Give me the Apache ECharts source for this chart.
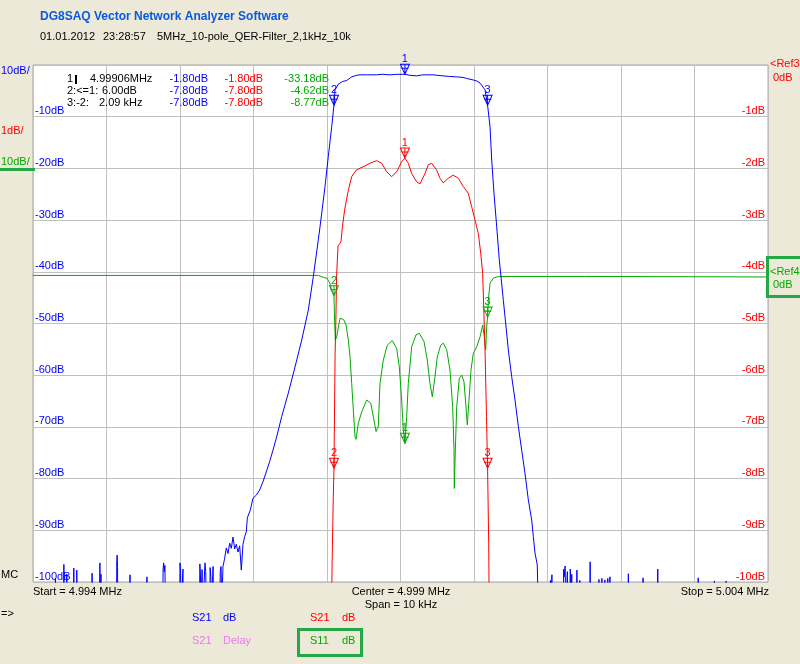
<!DOCTYPE html>
<html><head><meta charset="utf-8">
<script src="https://cdn.jsdelivr.net/npm/echarts@6/dist/echarts.min.js"></script>
<style>html,body{margin:0;padding:0;background:#ECE9D8;}#c{width:800px;height:664px;}</style>
</head><body><div id="c"></div>
<script>
// ---- axis ranges (kHz / dB) ----
const freqStartKHz = 4994, freqStopKHz = 5004, freqStepKHz = 1;
const blueRange = [-100, 0, 10];
const redRange = [-10, 0, 1];
const greenRange = [-60, 40, 10];

// ---- S21 dB (blue, 10 dB/div) ----
const blueFreq = [4994.000,4994.300,4994.305,4994.310,4994.415,4994.420,4994.425,4994.455,4994.460,4994.465,
4994.550,4994.555,4994.560,4994.592,4994.596,4994.602,4994.800,4994.804,4994.808,4994.905,4994.910,4994.915,
4994.925,4994.930,4995.135,4995.140,4995.145,4995.150,4995.155,4995.315,4995.320,4995.325,4995.545,4995.550,
4995.555,4995.765,4995.770,4995.778,4995.785,4995.795,4995.802,4995.995,4996.000,4996.008,4996.015,4996.035,
4996.040,4996.046,4996.265,4996.270,4996.278,4996.285,4996.295,4996.300,4996.310,4996.335,4996.340,4996.350,
4996.360,4996.405,4996.410,4996.420,4996.430,4996.445,4996.450,4996.456,4996.540,4996.548,4996.558,4996.570,
4996.585,4996.608,4996.630,4996.653,4996.676,4996.698,4996.721,4996.744,4996.766,4996.789,4996.812,4996.834,
4996.857,4996.880,4996.902,4996.916,4996.935,4996.956,4996.993,4997.038,4997.084,4997.129,4997.174,4997.220,
4997.265,4997.310,4997.384,4997.473,4997.565,4997.656,4997.746,4997.814,4997.882,4997.905,4997.973,4998.018,
4998.064,4998.095,4998.109,4998.154,4998.210,4998.268,4998.336,4998.400,4998.449,4998.550,4998.676,4998.750,
4998.857,4998.950,4999.060,4999.130,4999.220,4999.300,4999.356,4999.442,4999.500,4999.578,4999.650,4999.765,
4999.850,4999.901,4999.990,5000.040,5000.082,5000.150,5000.185,5000.218,5000.241,5000.272,5000.309,5000.344,
5000.367,5000.399,5000.422,5000.467,5000.513,5000.558,5000.603,5000.649,5000.694,5000.739,5000.785,5000.807,
5000.830,5000.861,5000.875,
5001.035,5001.040,5001.045,5001.055,5001.060,5001.065,5001.215,5001.220,5001.228,5001.240,5001.250,
5001.265,5001.270,5001.276,5001.305,5001.310,5001.316,5001.325,5001.330,5001.336,5001.395,5001.400,5001.405,
5001.435,5001.440,5001.445,5001.575,5001.580,5001.585,5001.695,5001.700,5001.705,5001.735,5001.740,5001.745,
5001.775,5001.780,5001.785,5001.815,5001.820,5001.825,5001.845,5001.850,5001.855,5002.095,5002.100,5002.105,
5002.295,5002.300,5002.305,5002.495,5002.500,5002.505,5003.045,5003.050,5003.055,5003.265,5003.270,5003.275,
5003.425,5003.430,5003.435,5004.000];
const blueDb = [-106,-106,-99.3,-106,-106,-96.6,-106,-106,-98.5,-106,
-106,-97.3,-106,-106,-97.7,-106,-106,-98.3,-106,-106,-96.3,-106,
-98.5,-106,-106,-96.0,-94.8,-97.2,-106,-106,-98.6,-106,-106,-99.0,
-106,-106,-97.5,-96.3,-98.0,-96.8,-106,-106,-96.3,-98.2,-106,-106,
-97.5,-106,-106,-96.5,-98.5,-106,-106,-97.6,-106,-106,-96.3,-98.0,
-106,-106,-97.2,-99.0,-106,-106,-97.0,-106,-106,-98.0,-97.0,-104,
-97.0,-95.4,-93.4,-94.5,-92.5,-93.5,-91.3,-93.6,-92.7,-94.2,-93.0,-97.7,
-92.7,-91.2,-90.3,-87.6,-87.3,-86.1,-83.8,-83.2,-82.2,-80.6,-78.7,-76.7,
-74.5,-72.2,-68.0,-63.5,-58.4,-53.2,-47.4,-40.9,-33.8,-31.3,-23.5,-17.7,
-11.9,-7.8,-4.8,-3.7,-3.2,-3.0,-2.3,-2.0,-1.9,-1.9,-1.9,-1.8,
-1.9,-1.8,-1.8,-2.0,-2.1,-1.9,-1.9,-1.9,-2.0,-2.1,-2.2,-2.3,
-2.4,-2.6,-2.9,-3.1,-3.5,-4.8,-7.8,-11.9,-18.4,-24.8,-31.3,-37.7,
-40.9,-45.5,-48.7,-55.1,-60.3,-64.8,-69.9,-74.5,-79.0,-84.1,-88.0,-91.2,
-94.4,-96.7,-106,
-106,-99.7,-106,-106,-98.6,-106,-106,-97.5,-99.0,-96.9,-106,
-106,-98.0,-106,-106,-97.5,-106,-106,-98.5,-106,-106,-97.7,-106,
-106,-99.7,-106,-106,-96.1,-106,-106,-99.5,-106,-106,-99.3,-106,
-106,-99.6,-106,-106,-99.3,-106,-106,-99.0,-106,-106,-98.4,-106,
-106,-99.2,-106,-106,-97.5,-106,-106,-99.2,-106,-106,-99.8,-106,
-106,-99.8,-106,-106];

// ---- S21 dB (red, 1 dB/div) ----
const redFreq = [4994.000,4998.050,4998.070,4998.085,4998.095,4998.110,4998.120,4998.130,4998.150,4998.190,
4998.210,4998.240,4998.290,4998.336,4998.400,4998.490,4998.585,4998.676,4998.744,4998.810,4998.880,4998.950,
4999.016,4999.060,4999.106,4999.152,4999.220,4999.265,4999.333,4999.378,4999.424,4999.492,4999.537,4999.582,
4999.650,4999.718,4999.786,4999.854,4999.922,4999.968,5000.014,5000.059,5000.091,5000.118,5000.150,5000.170,
5000.185,5000.200,5000.215,5004.000];
const redDb = [-12,-12,-9.6,-8.4,-7.8,-5.6,-5.0,-4.1,-3.5,-3.42,
-3.13,-2.80,-2.42,-2.16,-2.03,-1.97,-1.90,-1.85,-1.90,-2.06,-2.16,-2.06,
-1.87,-1.80,-1.90,-2.10,-2.26,-2.30,-2.10,-1.93,-1.90,-2.03,-2.19,-2.28,
-2.19,-2.13,-2.19,-2.35,-2.48,-2.74,-3.00,-3.26,-3.64,-4.03,-5.50,-6.80,
-7.80,-9.25,-12,-12];

// ---- S11 dB (green, 10 dB/div, ref 0 dB) ----
const greenFreq = [4994.000,4997.882,4997.950,4998.000,4998.040,4998.060,4998.095,4998.100,4998.113,4998.132,
4998.154,4998.177,4998.200,4998.225,4998.259,4998.290,4998.313,4998.336,4998.358,4998.381,4998.395,4998.426,
4998.472,4998.540,4998.595,4998.630,4998.667,4998.698,4998.721,4998.766,4998.820,4998.888,4998.948,4998.984,
4999.016,4999.038,4999.060,4999.084,4999.106,4999.152,4999.211,4999.256,4999.320,4999.365,4999.401,4999.433,
4999.469,4999.501,4999.547,4999.582,4999.629,4999.673,4999.710,4999.728,4999.732,4999.746,4999.765,4999.800,
4999.833,4999.864,4999.887,4999.909,4999.932,4999.959,4999.990,5000.037,5000.082,5000.118,5000.140,5000.159,
5000.173,5000.185,5000.195,5000.218,5000.263,5000.331,5001.500,5001.520,5004.000];
const greenDb = [-0.7,-0.7,-1.07,-1.26,-2.2,-3.5,-4.62,-7.8,-13.2,-12.6,
-10.7,-9.0,-8.7,-9.2,-10.3,-13.2,-16.4,-21.6,-26.7,-31.9,-32.4,-29.3,
-27.1,-24.8,-25.4,-28.0,-30.9,-29.9,-21.6,-17.1,-14.2,-13.3,-14.8,-18.4,
-24.8,-30.6,-33.18,-28.0,-21.6,-14.5,-12.2,-11.9,-13.5,-17.1,-21.6,-24.2,
-20.3,-16.4,-14.2,-13.8,-15.1,-19.0,-26.1,-34.5,-41.9,-34.5,-26.1,-20.6,
-20.0,-21.3,-25.4,-29.6,-24.8,-19.0,-15.8,-14.5,-12.6,-10.3,-12.6,-15.1,
-10.5,-8.77,-5.5,-2.2,-1.26,-0.9,-0.9,-1.0,-1.0];

// ---- markers ----
const markerNames = ['1', '2', '3'];
const markerFreq = [4999.06, 4998.095, 5000.185];
const markerBlue = [-1.80, -7.80, -7.80];
const markerRed = [-1.80, -7.80, -7.80];
const markerGreen = [-33.18, -4.62, -8.77];

const FONT = '"Liberation Sans", Arial, sans-serif';
const BLUE = '#0000FF', RED = '#FF0000', GREEN = '#00AA00', BOXGREEN = '#22A845', VIOLET = '#EE77EE';
const GRIDC = '#C0C0C0';
const zip = (xs, ys) => xs.map((x, i) => [x, ys[i]]);
const MARK = 'path://M0,0L10,0L5,10Z M5,0L5,10 M1,4L9,4';

function markers(vals, color) {
  return {
    symbol: MARK, symbolSize: [9, 10], symbolOffset: [0, '-50%'], silent: true,
    itemStyle: { color: 'none', borderColor: color, borderWidth: 1 },
    label: { show: true, position: 'top', distance: -3, color: color, fontFamily: FONT, fontSize: 11,
      formatter: p => p.name },
    data: markerFreq.map((f, i) => ({ name: markerNames[i], coord: [f, vals[i]] }))
  };
}

function txt(x, y, s, color, opts) {
  opts = opts || {};
  return { type: 'text', x: x, y: y, silent: true, z: 100,
    style: { text: s, fill: color, font: (opts.bold ? 'bold ' : '') + (opts.size || 11) + 'px ' + FONT,
      textAlign: opts.align || 'left', textVerticalAlign: 'middle' } };
}
function box(x, y, w, h, color, lw) {
  return { type: 'rect', silent: true, z: 100, shape: { x: x, y: y, width: w, height: h },
    style: { fill: 'none', stroke: color, lineWidth: lw } };
}

const fmtDb = v => v.toFixed(2) + 'dB';
const rowY = [79, 91, 103];

const graphics = [
  txt(40, 17, 'DG8SAQ Vector Network Analyzer Software', '#0A5ADC', { bold: true, size: 12 }),
  txt(40, 37, '01.01.2012', '#000'),
  txt(103, 37, '23:28:57', '#000'),
  txt(157, 37, '5MHz_10-pole_QER-Filter_2,1kHz_10k', '#000'),
  txt(1, 71, '10dB/', BLUE),
  txt(1, 131, '1dB/', RED),
  txt(1, 162, '10dB/', GREEN),
  { type: 'rect', silent: true, z: 100, shape: { x: 0, y: 168, width: 35, height: 3 }, style: { fill: BOXGREEN } },
  // marker table
  txt(67, rowY[0], markerNames[0], '#000'),
  { type: 'rect', silent: true, z: 100, shape: { x: 75, y: 75, width: 2, height: 9 }, style: { fill: '#000' } },
  txt(90, rowY[0], (markerFreq[0] / 1000).toFixed(5) + 'MHz', '#000'),
  txt(67, rowY[1], '2:<=1:', '#000'),
  txt(102, rowY[1], (markerBlue[0] - markerBlue[1]).toFixed(2) + 'dB', '#000'),
  txt(67, rowY[2], '3:-2:', '#000'),
  txt(99, rowY[2], (markerFreq[2] - markerFreq[1]).toFixed(2) + ' kHz', '#000'),
  // right ref labels
  txt(770, 64, '<Ref3', RED),
  txt(773, 78, '0dB', RED),
  txt(770, 272, '<Ref4', GREEN),
  txt(773, 285, '0dB', GREEN),
  box(767.5, 257.5, 34, 39, BOXGREEN, 3),
  // bottom
  txt(1, 575, 'MC', '#000'),
  txt(33, 592, 'Start = ' + (freqStartKHz / 1000).toFixed(3) + ' MHz', '#000'),
  txt(401, 592, 'Center = ' + ((freqStartKHz + freqStopKHz) / 2000).toFixed(3) + ' MHz', '#000', { align: 'center' }),
  txt(401, 605, 'Span = ' + (freqStopKHz - freqStartKHz) + ' kHz', '#000', { align: 'center' }),
  txt(769, 592, 'Stop = ' + (freqStopKHz / 1000).toFixed(3) + ' MHz', '#000', { align: 'right' }),
  txt(1, 614, '=>', '#000'),
  txt(192, 618, 'S21', BLUE), txt(223, 618, 'dB', BLUE),
  txt(310, 618, 'S21', RED), txt(342, 618, 'dB', RED),
  txt(192, 641, 'S21', VIOLET), txt(223, 641, 'Delay', VIOLET),
  txt(310, 641, 'S11', GREEN), txt(342, 641, 'dB', GREEN),
  box(298.5, 629.5, 63, 26, BOXGREEN, 3)
];
[markerBlue, markerRed, markerGreen].forEach((arr, c) => {
  const colX = [208, 263, 329][c];
  const col = [BLUE, RED, GREEN][c];
  arr.forEach((v, i) => graphics.push(txt(colX, rowY[i], fmtDb(v), col, { align: 'right' })));
});

const chart = echarts.init(document.getElementById('c'), null, { renderer: 'canvas' });
chart.setOption({
  animation: false,
  backgroundColor: '#ECE9D8',
  grid: { left: 33, right: 32, top: 65, bottom: 82, show: true, backgroundColor: '#FFFFFF',
    borderColor: '#A8A8A8', borderWidth: 1, containLabel: false, outerBoundsMode: 'none' },
  xAxis: { type: 'value', min: freqStartKHz, max: freqStopKHz, interval: freqStepKHz,
    axisLabel: { show: false }, axisTick: { show: false }, axisLine: { show: false },
    splitLine: { show: true, lineStyle: { color: GRIDC, width: 1 } } },
  yAxis: [
    { type: 'value', min: blueRange[0], max: blueRange[1], interval: blueRange[2], position: 'left',
      axisLine: { show: false }, axisTick: { show: false },
      axisLabel: { inside: true, margin: 2, align: 'left', verticalAlign: 'bottom', color: BLUE,
        fontFamily: FONT, fontSize: 11, showMinLabel: true, showMaxLabel: true,
        formatter: v => v === 0 ? '' : v + 'dB' },
      splitLine: { show: true, lineStyle: { color: GRIDC, width: 1 } } },
    { type: 'value', min: redRange[0], max: redRange[1], interval: redRange[2], position: 'right',
      axisLine: { show: false }, axisTick: { show: false },
      axisLabel: { inside: true, margin: 3, align: 'right', verticalAlign: 'bottom', color: RED,
        fontFamily: FONT, fontSize: 11, showMinLabel: true, showMaxLabel: true,
        formatter: v => v === 0 ? '' : v + 'dB' },
      splitLine: { show: false } },
    { type: 'value', min: greenRange[0], max: greenRange[1], interval: greenRange[2], show: false,
      splitLine: { show: false } }
  ],
  series: [
    { type: 'line', name: 'S11 dB', yAxisIndex: 2, data: zip(greenFreq, greenDb), showSymbol: false,
      clip: true, lineStyle: { color: GREEN, width: 1 }, itemStyle: { color: GREEN },
      markPoint: markers(markerGreen, GREEN), z: 2 },
    { type: 'line', name: 'S21 dB red', yAxisIndex: 1, data: zip(redFreq, redDb), showSymbol: false,
      clip: true, lineStyle: { color: RED, width: 1 }, itemStyle: { color: RED },
      markPoint: markers(markerRed, RED), z: 3 },
    { type: 'line', name: 'S21 dB', yAxisIndex: 0, data: zip(blueFreq, blueDb), showSymbol: false,
      clip: true, lineStyle: { color: BLUE, width: 1 }, itemStyle: { color: BLUE },
      markPoint: markers(markerBlue, BLUE), z: 4 }
  ],
  graphic: graphics
});
</script>
</body></html>
